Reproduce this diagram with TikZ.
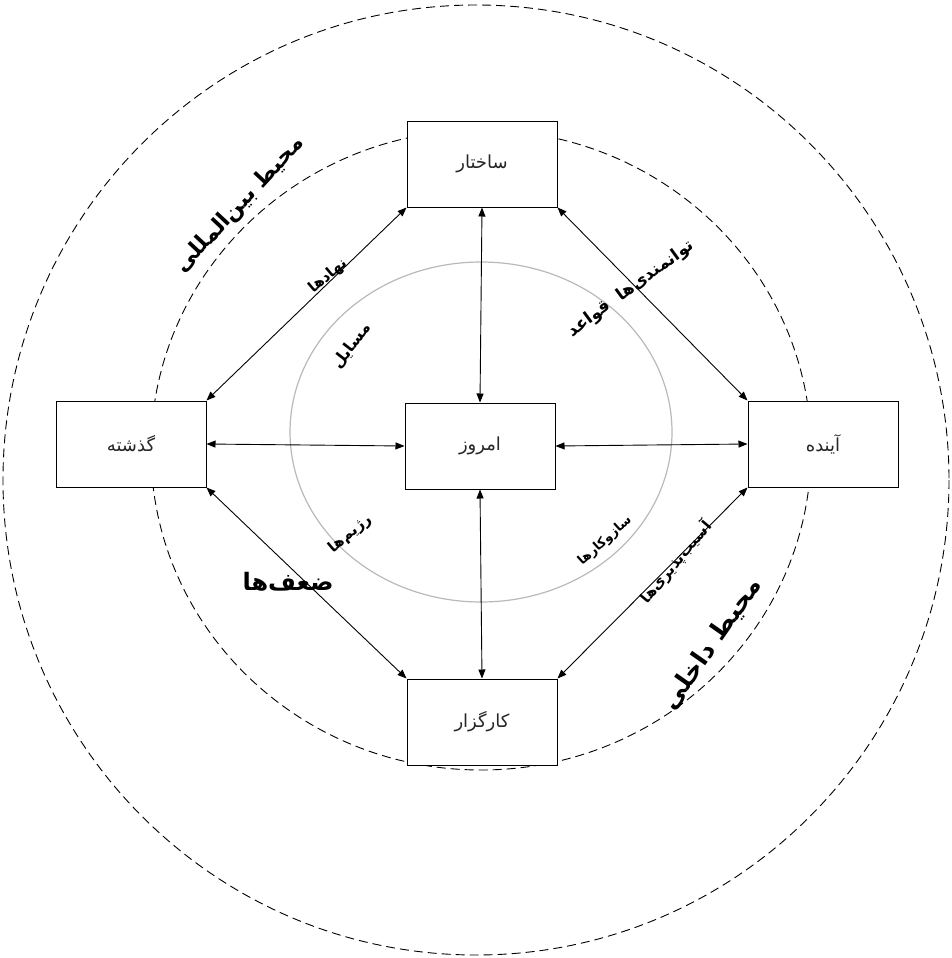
\documentclass[tikz,border=0pt]{standalone}
\usepackage{fontspec}
\usetikzlibrary{arrows.meta}
\TeXXeTstate=1
\newfontfamily\arabicfont[Script=Arabic]{DejaVu Sans}
\tikzset{
  boxnode/.style={draw, line width=1pt, minimum width=150pt, minimum height=86pt, inner sep=0pt, font=\arabicfont\fontsize{18}{21}\selectfont, text=black!85},
  link/.style={line width=0.9pt, {Triangle[length=9pt,width=7pt]}-{Triangle[length=9pt,width=7pt]}},
  lbl/.style={inner sep=0pt, font=\arabicfont\bfseries\fontsize{#1}{#1}\selectfont},
  ring/.style={dashed, dash pattern=on 9pt off 5pt, line width=0.9pt}
}
\begin{document}
\begin{tikzpicture}[x=1pt,y=-1pt]
\useasboundingbox (0,0) rectangle (952,958);
% rings
\draw[ring] (476,480) ellipse [x radius=473, y radius=475];
\draw[ring] (481,450) ellipse [x radius=330, y radius=320];
\draw[gray!55, line width=1.2pt] (481,432) ellipse [x radius=191, y radius=170];
% boxes
\node[boxnode, fill=white] (s) at (482,164) {\beginR ساختار\endR};
\node[boxnode, fill=white] (g) at (131,444) {\beginR گذشته\endR};
\node[boxnode, fill=white] (a) at (823,444) {\beginR آینده\endR};
\node[boxnode, fill=white] (e) at (480,446) {\beginR امروز\endR};
\node[boxnode, fill=white] (k) at (482,722) {\beginR کارگزار\endR};
% connectors
\draw[link] (s.south west) -- (g.north east);
\draw[link] (s.south east) -- (a.north west);
\draw[link] (g.south east) -- (k.north west);
\draw[link] (a.south west) -- (k.north east);
\draw[link] (s.south) -- (e.north);
\draw[link] (e.south) -- (k.north);
\draw[link] (g.east) -- (e.west);
\draw[link] (e.east) -- (a.west);
% labels
\node[lbl=22, rotate=47] (t1) at (240,205) {\beginR محیط بین‌المللی\endR};
\node[lbl=15, rotate=40] (t2) at (328,276) {\beginR نهادها\endR};
\node[lbl=16, rotate=52] (t3) at (352,346) {\beginR مسایل\endR};
\node[lbl=17, rotate=36] (t4) at (631,289) {\beginR توانمندی‌ها \ قواعد\endR};
\node[lbl=24] (t5) at (288,582) {\beginR ضعف‌ها\endR};
\node[lbl=15, rotate=40] (t6) at (350,534) {\beginR رژیم‌ها\endR};
\node[lbl=13, rotate=42] (t7) at (605,541) {\beginR سازوکارها\endR};
\node[lbl=15, rotate=50] (t8) at (676,562) {\beginR آسیب‌پذیری‌ها\endR};
\node[lbl=25, rotate=55] (t9) at (712,644) {\beginR محیط داخلی\endR};
\end{tikzpicture}
\end{document}
